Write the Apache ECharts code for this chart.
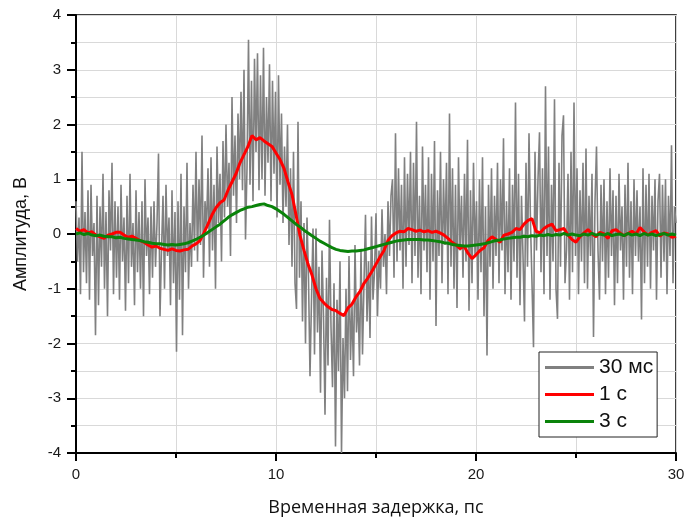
<!DOCTYPE html>
<html>
<head>
<meta charset="utf-8">
<script src="https://cdn.jsdelivr.net/npm/echarts@6/dist/echarts.min.js"></script>
<style>html,body{margin:0;padding:0;background:#fff}#c{width:694px;height:522px}</style>
</head>
<body>
<div id="c"></div>
<script>
// ---- data ----
const seriesNames = ['30 мс', '1 с', '3 с'];
const greyStart = 0, greyStep = 0.075;
const grey30ms = [
0.6,-0.5,0.3,-1.1,1.5,-0.7,0.4,-0.9,0.8,-1.2,
0.9,-0.4,0.2,-1.85,0.7,-1.3,0.5,-0.6,1.1,-1.0,
0.4,-1.5,0.8,-0.3,1.3,-1.1,0.6,-0.8,0.5,-1.2,
0.9,-0.5,0.3,-1.4,0.7,-0.9,1.1,-0.6,0.2,-1.3,
0.8,-0.7,0.4,-1.0,0.6,-1.5,1.0,-0.4,0.3,-1.1,
0.5,-0.8,0.6,-0.6,0.2,1.47,-1.5,-0.3,0.7,-1.0,
0.9,-0.4,0.3,-1.3,0.8,-0.9,0.4,-2.15,0.6,-1.2,
1.1,-1.85,0.5,-0.7,1.3,-1.0,0.2,-0.6,0.9,-0.3,
1.5,-0.5,1.0,-0.2,1.8,-0.8,0.6,0.1,1.2,-0.6,
1.4,-0.3,0.9,-1.0,1.6,0.2,1.1,-0.5,1.7,0.3,
2.0,0.5,1.3,-0.4,2.5,0.7,1.8,0.2,2.2,1.0,
2.6,0.8,3.0,-0.1,1.2,3.55,0.9,2.8,0.6,3.2,
1.5,3.3,0.8,2.9,1.0,3.4,0.7,2.5,1.3,3.1,
0.6,2.8,1.1,2.6,0.3,2.9,0.9,2.2,0.2,1.6,
0.5,2.0,-0.2,1.2,-0.6,1.5,-0.9,-1.37,2.05,-0.8,
0.6,-1.6,0.2,-2.0,0.3,-0.8,-2.6,-1.2,0.1,-2.2,
0.1,-1.8,-0.6,-2.9,-0.3,-1.5,-3.3,-0.8,-2.4,0.26,
-1.7,-2.8,-0.9,-3.88,-1.2,-2.5,-0.5,-4.0,-1.9,-3.0,
-1.0,-2.87,-0.4,-2.3,-1.3,-2.6,-0.2,-1.8,-1.1,-2.4,
-0.3,-2.2,-0.9,0.35,-1.6,-0.5,-1.9,0.32,-1.2,-0.7,
0.38,-1.5,-0.3,-1.0,0.45,-0.6,0.0,-1.1,0.6,-0.4,
0.7,1.0,-0.8,1.84,-0.5,1.2,-0.3,0.9,-1.0,1.4,
-0.6,1.1,-0.2,1.5,-0.9,1.3,-0.4,2.05,-0.8,0.7,
-1.1,1.6,-0.3,0.9,-0.7,1.4,-1.2,1.1,-0.5,1.7,
-1.68,0.8,-0.4,1.5,-0.9,1.0,-0.2,1.3,-1.1,2.2,
-0.6,1.2,-1.0,0.9,-1.35,1.4,-0.3,0.7,-0.8,1.1,
-0.5,1.72,-1.4,0.8,-0.9,1.3,-0.4,0.6,-1.2,1.0,
-0.7,1.4,-1.5,0.5,-2.22,0.9,-0.6,1.2,-1.0,0.7,
-0.4,1.3,-0.9,1.0,-0.3,1.75,-1.1,0.6,-0.7,1.2,
-1.2,0.9,-0.5,2.4,-0.8,1.1,-1.3,0.7,-0.4,-1.6,
1.3,-0.6,1.84,0.2,-0.9,-2.07,1.5,-0.3,1.0,1.86,
-0.7,1.2,-1.1,2.7,-0.4,1.6,-1.2,0.9,-0.5,2.46,
-1.0,-1.55,1.3,-0.6,1.8,2.17,-0.9,-0.3,1.1,-1.2,
1.5,-0.7,2.4,-0.4,1.2,-1.1,0.8,-0.5,1.3,-0.9,
1.56,-1.0,0.7,-0.4,1.1,-1.88,0.6,1.6,-0.3,-1.2,
0.9,-0.5,1.0,-1.1,0.6,-0.8,1.2,-0.4,0.8,-1.3,
0.7,-0.9,1.1,-0.3,0.5,-1.2,0.9,-0.6,1.3,-0.8,
0.6,-1.1,1.0,-0.4,0.8,-0.5,0.5,-1.56,1.2,-0.9,
0.9,-0.6,1.1,-1.0,0.7,-0.3,1.0,-1.2,0.6,1.1,
-0.8,0.9,-0.5,1.0,-1.1,0.7,-0.4,1.62,-0.9,0.5,
0.2
];
const smoothStart = 0, smoothStep = 0.2;
const red1s = [
0.10,0.05,0.08,0.02,0.04,-0.02,-0.05,-0.08,-0.02,0.00,
0.03,0.03,-0.02,-0.06,-0.04,-0.08,-0.12,-0.15,-0.20,-0.24,
-0.22,-0.26,-0.28,-0.30,-0.27,-0.30,-0.31,-0.29,-0.28,-0.22,
-0.18,-0.12,0.02,0.18,0.35,0.48,0.57,0.62,0.80,0.95,
1.10,1.30,1.45,1.60,1.80,1.72,1.76,1.70,1.65,1.60,
1.48,1.36,1.20,0.95,0.72,0.35,-0.03,-0.30,-0.55,-0.75,
-1.00,-1.18,-1.26,-1.33,-1.38,-1.40,-1.45,-1.49,-1.35,-1.28,
-1.15,-1.05,-0.90,-0.80,-0.68,-0.55,-0.42,-0.30,-0.12,-0.03,
0.02,0.05,0.04,0.10,0.08,0.05,0.07,0.04,0.06,0.03,
0.05,0.02,-0.02,-0.08,-0.15,-0.20,-0.27,-0.22,-0.35,-0.45,
-0.38,-0.30,-0.25,-0.12,-0.05,-0.10,-0.15,-0.02,0.00,0.03,
0.10,0.08,0.18,0.25,0.28,0.05,0.02,0.10,0.15,0.18,
0.06,0.08,0.10,-0.02,-0.10,-0.15,-0.05,0.02,0.08,0.00,
-0.05,0.03,0.00,-0.08,0.06,0.08,0.02,-0.03,0.01,0.05,
0.00,0.12,0.04,-0.02,0.03,0.06,-0.04,0.02,0.00,-0.06,
-0.04
];
const green3s = [
0.00,0.02,-0.01,0.01,-0.02,-0.03,-0.02,-0.04,-0.05,-0.05,
-0.07,-0.06,-0.08,-0.09,-0.10,-0.11,-0.12,-0.14,-0.15,-0.17,
-0.18,-0.18,-0.19,-0.20,-0.19,-0.20,-0.19,-0.18,-0.16,-0.13,
-0.10,-0.06,-0.02,0.03,0.08,0.13,0.18,0.24,0.30,0.35,
0.39,0.43,0.46,0.49,0.50,0.52,0.54,0.55,0.52,0.50,
0.46,0.41,0.36,0.30,0.24,0.18,0.13,0.07,0.02,-0.03,
-0.08,-0.13,-0.17,-0.21,-0.25,-0.28,-0.30,-0.31,-0.32,-0.31,
-0.31,-0.30,-0.29,-0.27,-0.25,-0.23,-0.21,-0.19,-0.17,-0.15,
-0.13,-0.12,-0.11,-0.10,-0.10,-0.10,-0.10,-0.11,-0.11,-0.12,
-0.13,-0.14,-0.16,-0.17,-0.19,-0.20,-0.21,-0.22,-0.22,-0.21,
-0.20,-0.19,-0.18,-0.16,-0.14,-0.12,-0.11,-0.09,-0.08,-0.07,
-0.06,-0.06,-0.04,-0.05,-0.03,-0.04,-0.02,-0.03,-0.01,-0.03,
-0.01,-0.02,0.01,-0.02,0.00,-0.02,-0.03,0.00,-0.02,0.01,
-0.02,0.00,-0.02,0.01,-0.03,-0.01,0.00,-0.03,0.01,-0.02,
0.00,-0.03,0.01,-0.02,0.00,-0.03,-0.01,0.01,-0.02,0.00,
-0.02
];
const xTicks = [0, 10, 20, 30];
const yTicks = [-4, -3, -2, -1, 0, 1, 2, 3, 4];

// ---- build ----
function pairs(vals, start, step) {
  return vals.map((v, i) => [+(start + i * step).toFixed(4), v]);
}
const chart = echarts.init(document.getElementById('c'), null, {renderer: 'canvas'});
const labelFont = 'Liberation Sans, Arial, sans-serif';
chart.setOption({
  animation: false,
  backgroundColor: '#fff',
  grid: {left: 76, right: 18, top: 15, bottom: 67, show: true, borderColor: '#000', borderWidth: 1.5},
  legend: {
    orient: 'vertical', left: 539, top: 352,
    data: seriesNames,
    icon: 'rect', itemWidth: 49, itemHeight: 3, itemGap: 6,
    padding: [5, 4, 5, 6],
    backgroundColor: '#fff', borderColor: '#222', borderWidth: 1, borderRadius: 0,
    textStyle: {fontFamily: labelFont, fontSize: 21, color: '#111', lineHeight: 21, padding: [0, 0, 0, 0]}
  },
  xAxis: {
    type: 'value', min: 0, max: 30, interval: 10,
    name: 'Временная задержка, пс', nameLocation: 'middle', nameGap: 46,
    nameTextStyle: {fontFamily: 'Open Sans, sans-serif', fontSize: 18, color: '#111'},
    axisLine: {show: true, onZero: false, lineStyle: {color: '#000', width: 2}},
    axisTick: {show: true, inside: false, length: 8, lineStyle: {color: '#000', width: 2}},
    minorTick: {show: true, splitNumber: 2, length: 5, lineStyle: {color: '#000', width: 2}},
    axisLabel: {fontFamily: labelFont, fontSize: 15, color: '#1a1a1a', margin: 14,
      formatter: v => xTicks.includes(v) ? String(v) : ''},
    splitLine: {show: true, lineStyle: {color: '#d9d9d9', width: 1}},
    minorSplitLine: {show: true, lineStyle: {color: '#d9d9d9', width: 1}}
  },
  yAxis: {
    type: 'value', min: -4, max: 4, interval: 1,
    name: 'Амплитуда, В', nameLocation: 'middle', nameGap: 46, nameRotate: 90,
    nameTextStyle: {fontFamily: labelFont, fontSize: 18, color: '#111'},
    axisLine: {show: true, onZero: false, lineStyle: {color: '#000', width: 2}},
    axisTick: {show: true, inside: false, length: 9, lineStyle: {color: '#000', width: 2}},
    minorTick: {show: true, splitNumber: 2, length: 5, lineStyle: {color: '#000', width: 2}},
    axisLabel: {fontFamily: labelFont, fontSize: 15, color: '#1a1a1a', margin: 15,
      formatter: v => yTicks.includes(v) ? String(v) : ''},
    splitLine: {show: true, lineStyle: {color: '#d9d9d9', width: 1}},
    minorSplitLine: {show: true, lineStyle: {color: '#d9d9d9', width: 1}}
  },
  series: [
    {name: seriesNames[0], type: 'line', data: pairs(grey30ms, greyStart, greyStep),
      showSymbol: false, symbol: 'none', color: '#808080',
      lineStyle: {color: '#808080', width: 1.6}, z: 2},
    {name: seriesNames[1], type: 'line', data: pairs(red1s, smoothStart, smoothStep),
      showSymbol: false, symbol: 'none', color: '#ff0000',
      lineStyle: {color: '#ff0000', width: 3}, z: 3},
    {name: seriesNames[2], type: 'line', data: pairs(green3s, smoothStart, smoothStep),
      showSymbol: false, symbol: 'none', color: '#0a830a',
      lineStyle: {color: '#0a830a', width: 3}, z: 4}
  ]
});
</script>
</body>
</html>
